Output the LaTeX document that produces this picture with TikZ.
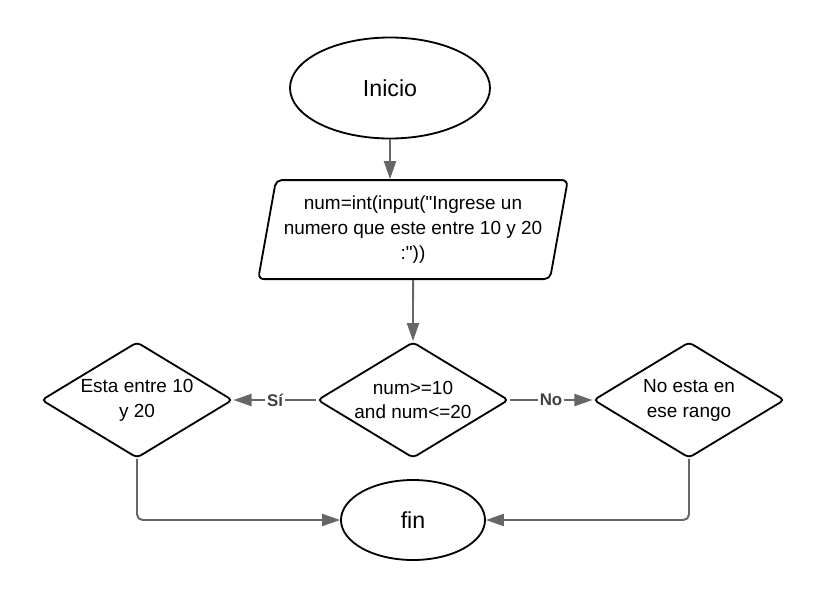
\documentclass[tikz,border=0pt]{standalone}
\usepackage{fontspec}
\setmainfont{Liberation Sans}[Ligatures=TeXOff]
\usepackage{xcolor}
\usepackage{tikz}
\usetikzlibrary{
  positioning,
  arrows.meta,
  shapes.geometric
}
\definecolor{linea}{HTML}{666666}
\tikzset{
  >=Latex,
  flecha/.style={-{Triangle[length=0.45cm,width=0.3cm]},line width=1.4pt,draw=linea},
  terminal/.style={ellipse,draw,line width=1.3pt,align=center,inner sep=0pt,font=\fontsize{16.5}{20}\selectfont},
  datos/.style={trapezium,trapezium left angle=76,trapezium right angle=104,trapezium stretches=true,draw,line width=1.3pt,rounded corners=4pt,align=center,inner sep=0pt,minimum width=7.75cm,minimum height=2.475cm,font=\fontsize{13.5}{17.7}\selectfont},
  decision/.style={diamond,aspect=1.65,draw,line width=1.3pt,rounded corners=3pt,align=center,inner sep=0pt,minimum width=4.78cm,minimum height=2.9cm,font=\fontsize{13.5}{17.7}\selectfont},
  etiqueta/.style={fill=white,inner sep=1.5pt,text=black!75,font=\fontsize{12}{14}\selectfont\bfseries}
}

\begin{document}
\begin{tikzpicture}[node distance=3cm, on grid]
    \useasboundingbox (-9.75,2.2) rectangle (10.95,-12.8);
    \node[terminal,minimum width=5cm,minimum height=2.525cm] (inicio) {Inicio};
    \node[datos,below right=3.54cm and 0.575cm of inicio] (entrada) {num=int(input("Ingrese un\\numero que este entre 10 y 20\\:"))};
    \node[decision,below=4.26cm of entrada] (condicion) {num>=10\\and num<=20};
    \node[decision,left=6.9cm of condicion] (dentro) {Esta entre 10\\y 20};
    \node[decision,right=6.9cm of condicion] (fuera) {No esta en\\ese rango};
    \node[terminal,below=3cm of condicion,minimum width=3.6cm,minimum height=2cm] (fin) {fin};

    \draw[flecha] (inicio) -- (inicio |- entrada.north);
    \draw[flecha] (entrada) -- (condicion);
    \draw[flecha] (condicion) -- node[etiqueta]{Sí} (dentro);
    \draw[flecha] (condicion) -- node[etiqueta]{No} (fuera);
    \draw[flecha,rounded corners=4pt] (dentro) |- (fin);
    \draw[flecha,rounded corners=4pt] (fuera) |- (fin);
\end{tikzpicture}
\end{document}
